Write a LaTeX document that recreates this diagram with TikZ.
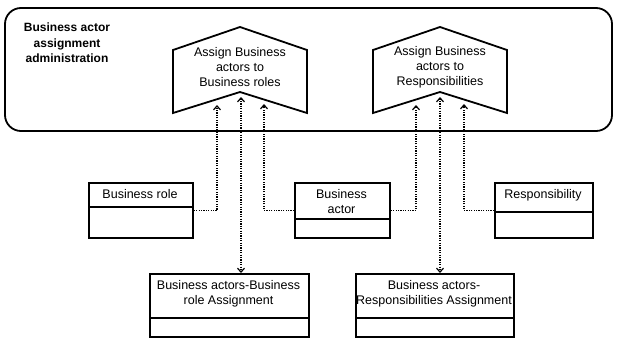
\documentclass[tikz,border=0pt]{standalone}
\usepackage{fontspec}
\setmainfont{Liberation Sans}
\usetikzlibrary{arrows.meta}
\begin{document}
\begin{tikzpicture}[x=1pt,y=-1pt,
  frame/.style={draw, line width=1.8pt, line join=miter},
  cls/.style={draw, line width=1.8pt, anchor=north west, inner sep=0pt},
  lbl/.style={align=center, font=\fontsize{12.5}{15}\selectfont, inner sep=0pt},
  ttl/.style={align=center, font=\fontsize{12}{15.5}\selectfont\bfseries, inner sep=0pt},
  tip/.style={Straight Barb[length=4pt,width=7pt,line width=1.2pt]},
  dep/.style={line width=1.3pt, dash pattern=on 1.2pt off 1.2pt, -{Straight Barb[length=4pt,width=7pt,line width=1.2pt]}},
  dep2/.style={line width=1.3pt, dash pattern=on 1.2pt off 1.2pt, {Straight Barb[length=4pt,width=7pt,line width=1.2pt]}-{Straight Barb[length=4pt,width=7pt,line width=1.2pt]}},
  ]
\useasboundingbox (0,0) rectangle (617,338);
% outer frame
\draw[frame, rounded corners=16pt] (5,8) rectangle (612,131);
\node[ttl] (title) at (67,43) {Business actor\\assignment\\administration};
% processes
\draw[frame] (173,50) -- (240,27) -- (307,50) -- (307,113) -- (240,92) -- (173,113) -- cycle;
\node[lbl] (p1) at (240,67) {Assign Business\\actors to\\Business roles};
\draw[frame] (373,50) -- (440,27) -- (507,50) -- (507,113) -- (440,92) -- (373,113) -- cycle;
\node[lbl] (p2) at (440,67) {Assign Business\\actors to\\Responsibilities};
\coordinate (p1l) at (217,105);
\coordinate (p1m) at (241,97);
\coordinate (p1r) at (264,104);
\coordinate (p2l) at (416,105);
\coordinate (p2m) at (440,97);
\coordinate (p2r) at (464,104);
% classes
\node[cls, minimum width=104pt, minimum height=55pt] (br) at (88,182) {};
\draw[line width=1.8pt] (88,207) -- (192,207);
\node[lbl] (brt) at (140,194.5) {Business role};
\node[cls, minimum width=95pt, minimum height=55pt] (ba) at (294,182) {};
\draw[line width=1.8pt] (294,219) -- (389,219);
\node[lbl] (bat) at (341.5,202) {Business\\actor};
\node[cls, minimum width=98pt, minimum height=55pt] (rs) at (494,182) {};
\draw[line width=1.8pt] (494,212) -- (592,212);
\node[lbl] (rst) at (543,195.5) {Responsibility};
\node[cls, minimum width=159pt, minimum height=63pt] (ab1) at (149,273) {};
\draw[line width=1.8pt] (149,318) -- (308,318);
\node[lbl] (ab1t) at (228.5,294) {Business actors-Business\\role Assignment};
\node[cls, minimum width=158pt, minimum height=63pt] (ab2) at (355,273) {};
\draw[line width=1.8pt] (355,318) -- (513,318);
\node[lbl] (ab2t) at (434,294) {Business actors-\\Responsibilities Assignment};
% connectors
\draw[dep] (br.east) -| (p1l);
\draw[dep] (ba.west) -| (p1r);
\draw[dep] (ba.east) -| (p2l);
\draw[dep] (rs.west) -| (p2r);
\draw[dep2] (p1m) -- (p1m |- ab1.north);
\draw[dep2] (p2m) -- (p2m |- ab2.north);
\end{tikzpicture}
\end{document}
